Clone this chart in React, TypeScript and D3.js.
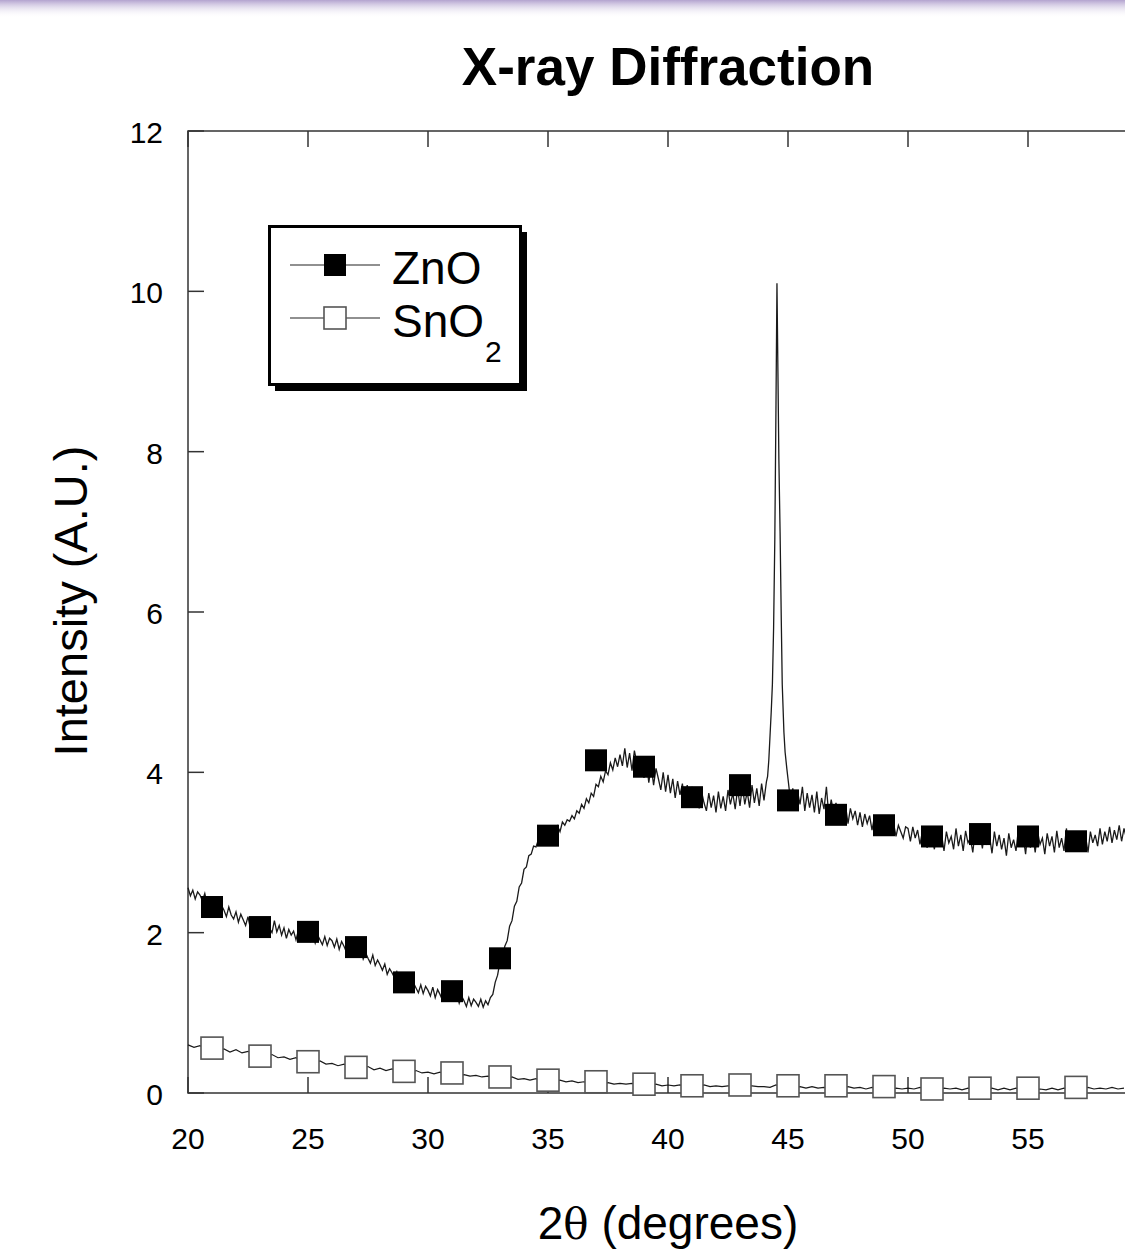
import React from "react";
import * as d3 from "d3";

// ZnO trace, 20.0 .. 59.1 deg in 0.1 deg steps
const znoTrace = [
  2.56, 2.46, 2.53, 2.42, 2.51, 2.47, 2.4, 2.49, 2.35, 2.44,
  2.38, 2.29, 2.37, 2.24, 2.34, 2.28, 2.2, 2.32, 2.22, 2.17,
  2.26, 2.13, 2.23, 2.16, 2.09, 2.2, 2.05, 2.15, 2.1, 2.02,
  2.12, 1.99, 2.07, 1.96, 2.05, 2.0, 2.15, 2.01, 2.09, 1.97,
  2.06, 1.93, 2.04, 1.97, 2.02, 1.91, 2.03, 1.95, 1.99, 1.92,
  2.01, 1.9, 1.99, 1.87, 1.97, 1.91, 1.85, 1.95, 1.84, 1.93,
  1.9, 1.82, 1.92, 1.79, 1.89, 1.83, 1.76, 1.87, 1.75, 1.84,
  1.79, 1.72, 1.8, 1.67, 1.75, 1.68, 1.62, 1.72, 1.59, 1.66,
  1.6, 1.53, 1.61, 1.48, 1.55, 1.5, 1.44, 1.51, 1.38, 1.45,
  1.4, 1.33, 1.41, 1.29, 1.37, 1.31, 1.25, 1.35, 1.24, 1.33,
  1.28, 1.21, 1.32, 1.19, 1.29, 1.23, 1.16, 1.28, 1.18, 1.25,
  1.23, 1.16, 1.24, 1.12, 1.21, 1.15, 1.08, 1.19, 1.09, 1.17,
  1.13, 1.08, 1.17, 1.07, 1.15, 1.1, 1.19, 1.23, 1.38, 1.47,
  1.64, 1.68, 1.83, 1.9, 2.08, 2.15, 2.33, 2.39, 2.57, 2.62,
  2.79, 2.82, 2.96, 2.98, 3.08, 3.07, 3.16, 3.1, 3.19, 3.15,
  3.22, 3.19, 3.25, 3.24, 3.33, 3.26, 3.38, 3.34, 3.41, 3.39,
  3.46, 3.42, 3.52, 3.49, 3.6, 3.55, 3.67, 3.62, 3.74, 3.7,
  3.85, 3.82, 3.95, 3.88, 4.02, 3.97, 4.12, 4.03, 4.18, 4.07,
  4.22, 4.08, 4.3, 4.06, 4.24, 4.02, 4.27, 4.12, 3.98, 4.2,
  3.93, 4.14, 3.87, 4.08, 3.84, 4.05, 3.92, 3.78, 4.0, 3.76,
  3.97, 3.74, 3.92, 3.68, 3.89, 3.72, 3.86, 3.62, 3.84, 3.67,
  3.82, 3.58, 3.79, 3.55, 3.76, 3.62, 3.52, 3.74, 3.56, 3.71,
  3.5, 3.76, 3.55, 3.7, 3.52, 3.78, 3.6, 3.74, 3.54, 3.8,
  3.58, 3.83, 3.6, 3.76, 3.56, 3.84, 3.62, 3.8, 3.58, 3.86,
  3.65, 3.88, 3.9, 3.9, 3.9, 3.9, 3.9, 3.9, 3.9, 3.9,
  3.92, 3.66, 3.8, 3.55, 3.76, 3.6, 3.82, 3.52, 3.74, 3.56,
  3.72, 3.5, 3.76, 3.48, 3.68, 3.54, 3.82, 3.46, 3.66, 3.5,
  3.62, 3.4, 3.6, 3.44, 3.58, 3.36, 3.55, 3.42, 3.52, 3.34,
  3.5, 3.32, 3.48, 3.36, 3.46, 3.28, 3.44, 3.34, 3.4, 3.26,
  3.42, 3.24, 3.38, 3.3, 3.36, 3.2, 3.34, 3.26, 3.18, 3.32,
  3.3, 3.14, 3.32, 3.18, 3.28, 3.1, 3.26, 3.16, 3.06, 3.24,
  3.2, 3.04, 3.28, 3.1, 3.22, 3.02, 3.26, 3.12, 3.2, 3.04,
  3.3, 3.08, 3.22, 3.02, 3.27, 3.12, 3.18, 3.0, 3.28, 3.1,
  3.24, 3.05, 3.3, 3.12, 3.2, 2.99, 3.26, 3.08, 3.22, 3.04,
  3.18, 2.96, 3.24, 3.06, 3.16, 3.02, 3.29, 3.08, 3.2, 2.98,
  3.28, 3.06, 3.22, 3.0, 3.26, 3.1, 3.18, 2.98, 3.24, 3.08,
  3.2, 3.0, 3.27, 3.06, 3.18, 3.02, 3.3, 3.08, 3.22, 3.04,
  3.16, 3.02, 3.24, 3.06, 3.2, 3.0, 3.26, 3.12, 3.22, 3.08,
  3.3, 3.1, 3.26, 3.14, 3.32, 3.12, 3.28, 3.16, 3.34, 3.14,
  3.3, 3.18,
];
const znoStart = 20;
const znoStep = 0.1;

// sharp reflection near 44.5 deg
const znoPeak: [number, number][] = [
  [44.15, 3.95], [44.2, 4.15], [44.25, 4.45], [44.3, 4.75], [44.35, 5.1],
  [44.4, 5.8], [44.45, 6.9], [44.5, 8.6], [44.54, 10.1], [44.58, 9.0],
  [44.62, 7.9], [44.67, 7.0], [44.72, 5.9], [44.76, 5.1], [44.83, 4.5],
  [44.88, 4.25], [44.95, 4.05],
];

// SnO2 trace, 20.0 .. 59.0 deg in 0.25 deg steps
const snoTrace = [
  0.6, 0.57, 0.59, 0.55, 0.57, 0.53, 0.55, 0.51, 0.54, 0.5, 0.52, 0.48,
  0.49, 0.46, 0.48, 0.44, 0.45, 0.42, 0.44, 0.4, 0.41, 0.38, 0.4, 0.36,
  0.37, 0.34, 0.36, 0.32, 0.34, 0.31, 0.33, 0.29, 0.31, 0.28, 0.3, 0.27,
  0.28, 0.26, 0.28, 0.25, 0.26, 0.24, 0.26, 0.23, 0.24, 0.22, 0.23, 0.21,
  0.22, 0.2, 0.21, 0.19, 0.2, 0.18, 0.2, 0.17, 0.18, 0.16, 0.18, 0.15,
  0.16, 0.15, 0.16, 0.14, 0.15, 0.13, 0.14, 0.12, 0.13, 0.12, 0.13, 0.11,
  0.12, 0.11, 0.12, 0.1, 0.11, 0.1, 0.11, 0.09, 0.1, 0.09, 0.1, 0.08,
  0.09, 0.08, 0.1, 0.08, 0.09, 0.08, 0.09, 0.07, 0.09, 0.07, 0.09, 0.08,
  0.08, 0.07, 0.1, 0.08, 0.08, 0.07, 0.08, 0.06, 0.08, 0.06, 0.07, 0.06,
  0.07, 0.06, 0.08, 0.06, 0.07, 0.05, 0.07, 0.06, 0.07, 0.05, 0.06, 0.05,
  0.06, 0.05, 0.07, 0.05, 0.06, 0.04, 0.06, 0.05, 0.06, 0.04, 0.06, 0.05,
  0.06, 0.05, 0.06, 0.04, 0.06, 0.04, 0.06, 0.05, 0.06, 0.04, 0.05, 0.04,
  0.06, 0.04, 0.06, 0.05, 0.06, 0.05, 0.07, 0.05, 0.06, 0.05, 0.07, 0.05,
  0.06,
];
const snoStart = 20;
const snoStep = 0.25;

// symbol positions
const markerX = [21, 23, 25, 27, 29, 31, 33, 35, 37, 39, 41, 43, 45, 47, 49, 51, 53, 55, 57];
const znoMarkers = [2.32, 2.07, 2.01, 1.82, 1.38, 1.27, 1.68, 3.21, 4.15, 4.07, 3.69, 3.84, 3.65, 3.47, 3.34, 3.2, 3.23, 3.2, 3.14];
const snoMarkers = [0.56, 0.46, 0.39, 0.32, 0.27, 0.25, 0.2, 0.16, 0.14, 0.11, 0.09, 0.1, 0.09, 0.09, 0.08, 0.05, 0.06, 0.06, 0.07];

const xTicks = [20, 25, 30, 35, 40, 45, 50, 55, 60];
const xTickLabels = [20, 25, 30, 35, 40, 45, 50, 55];
const yTicks = [0, 2, 4, 6, 8, 10, 12];

const W = 1125;
const H = 1249;
const font = "'Liberation Sans', Arial, Helvetica, sans-serif";
const ms = 22;

export default function App() {
  const x = d3.scaleLinear().domain([20, 60]).range([188, 1148]);
  const y = d3.scaleLinear().domain([0, 12]).range([1093, 131]);

  const znoPts: [number, number][] = znoTrace
    .map((v, i) => [znoStart + i * znoStep, v] as [number, number])
    .filter((p) => p[0] < 44.14 || p[0] > 44.96)
    .concat(znoPeak)
    .sort((a, b) => a[0] - b[0]);
  const snoPts: [number, number][] = snoTrace.map(
    (v, i) => [snoStart + i * snoStep, v] as [number, number]
  );

  const line = d3
    .line<[number, number]>()
    .x((d) => x(d[0]))
    .y((d) => y(d[1]));

  const [x0, x1] = x.range();
  const [y0, y1] = y.range();
  const tick = 16;

  return (
    <svg
      width={W}
      height={H}
      style={{ position: "absolute", left: 0, top: 0, display: "block", background: "#fff" }}
    >
      <defs>
        <linearGradient id="topbar" x1="0" y1="0" x2="0" y2="1">
          <stop offset="0" stopColor="#b3a3cf" />
          <stop offset="1" stopColor="#ffffff" stopOpacity="0" />
        </linearGradient>
      </defs>
      <rect x={0} y={0} width={W} height={18} fill="url(#topbar)" />

      <text x={668} y={85} textAnchor="middle" fontFamily={font} fontWeight="bold" fontSize={53}>
        X-ray Diffraction
      </text>

      {/* frame */}
      <g stroke="#333" strokeWidth={1.5} fill="none">
        <rect x={x0} y={y1} width={x1 - x0} height={y0 - y1} />
        {xTicks.map((t) => (
          <g key={`xt${t}`}>
            <line x1={x(t)} x2={x(t)} y1={y0} y2={y0 - tick} />
            <line x1={x(t)} x2={x(t)} y1={y1} y2={y1 + tick} />
          </g>
        ))}
        {yTicks.map((t) => (
          <g key={`yt${t}`}>
            <line x1={x0} x2={x0 + tick} y1={y(t)} y2={y(t)} />
            <line x1={x1} x2={x1 - tick} y1={y(t)} y2={y(t)} />
          </g>
        ))}
      </g>

      <g fontFamily={font} fontSize={30} fill="#000">
        {xTickLabels.map((t) => (
          <text key={`xl${t}`} x={x(t)} y={y0 + 56} textAnchor="middle">
            {t}
          </text>
        ))}
        {yTicks.map((t) => (
          <text key={`yl${t}`} x={163} y={y(t) + 12} textAnchor="end">
            {t}
          </text>
        ))}
      </g>

      <text
        transform="translate(87,601) rotate(-90)"
        textAnchor="middle"
        fontFamily={font}
        fontSize={47}
      >
        Intensity (A.U.)
      </text>
      <text x={668} y={1239} textAnchor="middle" fontFamily={font} fontSize={46}>
        2<tspan fontFamily="'DejaVu Serif', 'Liberation Serif', serif" fontSize={42}>θ</tspan> (degrees)
      </text>

      {/* traces */}
      <path d={line(snoPts) || ""} fill="none" stroke="#1a1a1a" strokeWidth={1.2} />
      <path d={line(znoPts) || ""} fill="none" stroke="#1a1a1a" strokeWidth={1.3} />

      {markerX.map((mx, i) => (
        <rect
          key={`sm${i}`}
          x={x(mx) - ms / 2}
          y={y(snoMarkers[i]) - ms / 2}
          width={ms}
          height={ms}
          fill="#fff"
          stroke="#555"
          strokeWidth={1.6}
        />
      ))}
      {markerX.map((mx, i) => (
        <rect
          key={`zm${i}`}
          x={x(mx) - ms / 2}
          y={y(znoMarkers[i]) - ms / 2}
          width={ms}
          height={ms}
          fill="#000"
        />
      ))}

      {/* legend */}
      <rect x={275} y={232} width={252} height={159} fill="#000" />
      <rect x={269.5} y={226.5} width={251} height={158} fill="#fff" stroke="#000" strokeWidth={3} />
      <line x1={290} x2={380} y1={265} y2={265} stroke="#222" strokeWidth={1.2} />
      <rect x={335 - 11} y={265 - 11} width={22} height={22} fill="#000" />
      <line x1={290} x2={380} y1={318} y2={318} stroke="#222" strokeWidth={1.2} />
      <rect x={335 - 11} y={318 - 11} width={22} height={22} fill="#fff" stroke="#555" strokeWidth={1.6} />
      <g fontFamily={font} fontSize={46} fill="#000">
        <text x={392} y={284}>ZnO</text>
        <text x={392} y={337}>SnO</text>
        <text x={485} y={362} fontSize={30}>2</text>
      </g>
    </svg>
  );
}
